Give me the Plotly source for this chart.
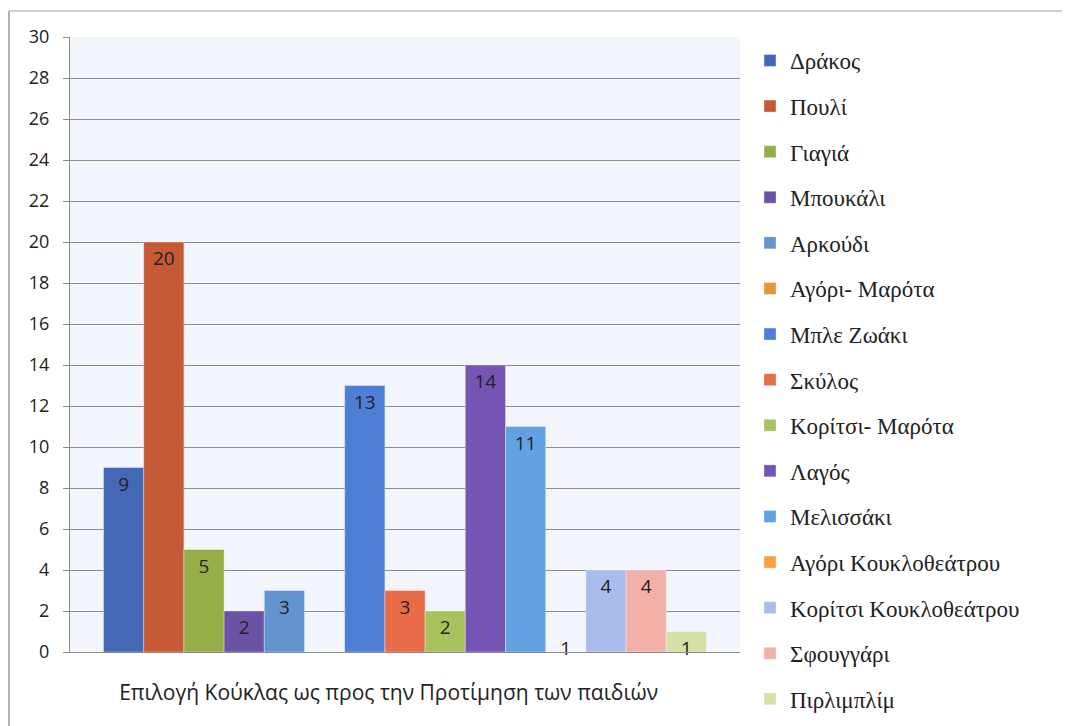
import plotly.graph_objects as go

category = ["Επιλογή Κούκλας ως προς την Προτίμηση των παιδιών"]
series_names = ["Δράκος", "Πουλί", "Γιαγιά", "Μπουκάλι", "Αρκούδι", "Αγόρι- Μαρότα",
                "Μπλε Ζωάκι", "Σκύλος", "Κορίτσι- Μαρότα", "Λαγός", "Μελισσάκι",
                "Αγόρι Κουκλοθεάτρου", "Κορίτσι Κουκλοθεάτρου", "Σφουγγάρι", "Πιρλιμπλίμ"]
series_values = [9, 20, 5, 2, 3, None, 13, 3, 2, 14, 11, 1, 4, 4, 1]
series_colors = ["#4468B8", "#C65A37", "#96AE48", "#6A52A5", "#6494CF", "#E8923C",
                 "#4E7ED6", "#E86C48", "#A8C25C", "#7455B3", "#62A2E2",
                 "#F7A040", "#AABBEE", "#F2B0A8", "#D4E0A6"]
# series whose bar is not painted in the reference (only its label shows)
hidden_bar = ["Αγόρι Κουκλοθεάτρου"]
y_ticks = list(range(0, 31, 2))

fig = go.Figure()
for name, val, col in zip(series_names, series_values, series_colors):
    hid = name in hidden_bar
    fig.add_trace(go.Bar(
        x=category, y=[val], name=name,
        marker=dict(color="rgba(255,255,255,0)" if hid else col,
                    line=dict(color="rgba(255,255,255,0)" if hid else "rgba(255,255,255,0.35)", width=1)),
        text=[str(val)] if val is not None else None,
        textposition="inside", insidetextanchor="end", constraintext="none", textangle=0,
        textfont=dict(family="Open Sans, Lato, sans-serif", size=19, color="#222222"),
        showlegend=not hid, legendgroup=name, cliponaxis=False,
        hoverinfo="name+y",
    ))
    if hid:
        # legend-only entry with the series colour
        fig.add_trace(go.Bar(x=[None], y=[None], name=name, xaxis="x2",
                             marker=dict(color=col), legendgroup=name, showlegend=True))

# page body has an 8px margin, so the figure is drawn 8px right/down
W, H = 1062, 718
L, T, PW, PH = 62, 29, 670, 615
fig.update_layout(
    width=W, height=H,
    margin=dict(l=L, r=W - L - PW, t=T, b=H - T - PH, autoexpand=False),
    paper_bgcolor="white", plot_bgcolor="#F2F5FB",
    barmode="group", bargap=0.1, bargroupgap=0,
    showlegend=True,
    legend=dict(x=(742 - L) / PW, xanchor="left", y=(PH + T - 31) / PH, yanchor="top",
                font=dict(family="Liberation Serif, serif", size=23, color="#222222"),
                tracegroupgap=12.7, itemwidth=30, bgcolor="rgba(0,0,0,0)", maxheight=900),
    xaxis=dict(showgrid=False, ticks="", ticklabelstandoff=22, automargin=False,
               tickvals=category, ticktext=[category[0] + "\u00a0" * 6],
               tickfont=dict(family="Open Sans, Lato, sans-serif", size=21, color="#222222"),
               showline=True, linecolor="#8A8A8A", linewidth=1),
    xaxis2=dict(overlaying="x", visible=False, showgrid=False),
    yaxis=dict(range=[0, 30], tickvals=y_ticks, showgrid=True, gridcolor="#8C8C8C", gridwidth=1,
               ticks="outside", ticklen=6, tickcolor="#8C8C8C", automargin=False,
               showline=True, linecolor="#8C8C8C", linewidth=1,
               ticklabelstandoff=10, zeroline=False,
               tickfont=dict(family="Open Sans, Lato, sans-serif", size=18, color="#222222")),
    shapes=[
        dict(type="line", xref="paper", yref="paper", x0=(1 - L) / PW, x1=(1 - L) / PW,
             y0=(PH + T - 3) / PH, y1=-0.2, line=dict(color="#9A9A9A", width=1.5)),
        dict(type="line", xref="paper", yref="paper", x0=(1 - L) / PW, x1=(W - L) / PW,
             y0=(PH + T - 3) / PH, y1=(PH + T - 3) / PH, line=dict(color="#BDBDBD", width=1.5)),
    ],
)

fig.write_html("out.html")
